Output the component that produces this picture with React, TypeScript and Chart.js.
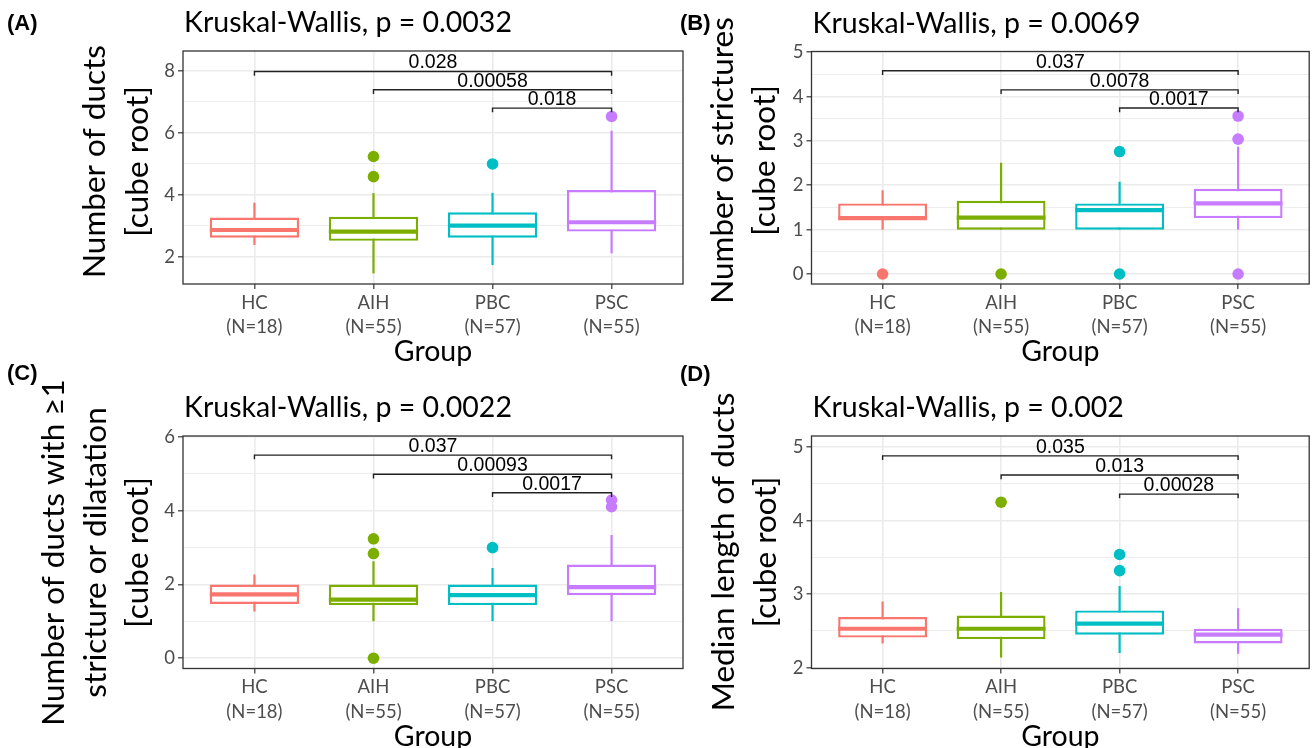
import React, { useEffect, useRef } from 'react';
import { Chart, registerables } from 'chart.js';

Chart.register(...registerables);

// ---------------- shared data ----------------
const GROUPS = ['HC', 'AIH', 'PBC', 'PSC'];
const GROUP_N = [18, 55, 57, 55];
const GROUP_COLORS = ['#F8766D', '#7CAE00', '#00BFC4', '#C77CFF'];
const COMPARISONS = [[0, 3], [1, 3], [2, 3]];
const X_LABEL = 'Group';

// ---------------- panel A ----------------
const A_LETTER = '(A)';
const A_TITLE = 'Kruskal-Wallis, p = 0.0032';
const A_YLABEL = ['Number of ducts', '[cube root]'];
const A_LOW = [2.38, 1.46, 1.73, 2.11];
const A_Q1 = [2.61, 2.51, 2.61, 2.81];
const A_MEDIAN = [2.86, 2.81, 3.0, 3.11];
const A_Q3 = [3.26, 3.29, 3.43, 4.15];
const A_HIGH = [3.74, 4.05, 4.06, 6.06];
const A_OUTLIERS = [[], [4.58, 5.23], [4.99], [6.52]];
const A_BRACKET_Y = [7.97, 7.38, 6.79];
const A_PVALUES = ['0.028', '0.00058', '0.018'];
const A_Y_TICKS = [2, 4, 6, 8];
const A_Y_RANGE = [1.12, 8.63];

// ---------------- panel B ----------------
const B_LETTER = '(B)';
const B_TITLE = 'Kruskal-Wallis, p = 0.0069';
const B_YLABEL = ['Number of strictures', '[cube root]'];
const B_LOW = [1.0, 1.0, 1.0, 1.0];
const B_Q1 = [1.23, 1.0, 1.0, 1.26];
const B_MEDIAN = [1.26, 1.27, 1.44, 1.59];
const B_Q3 = [1.59, 1.65, 1.59, 1.92];
const B_HIGH = [1.89, 2.51, 2.08, 2.87];
const B_OUTLIERS = [[0], [0], [0, 2.76], [0, 3.04, 3.56]];
const B_BRACKET_Y = [4.58, 4.15, 3.74];
const B_PVALUES = ['0.037', '0.0078', '0.0017'];
const B_Y_TICKS = [0, 1, 2, 3, 4, 5];
const B_Y_RANGE = [-0.225, 5.015];

// ---------------- panel C ----------------
const C_LETTER = '(C)';
const C_TITLE = 'Kruskal-Wallis, p = 0.0022';
const C_YLABEL = ['Number of ducts with \u22651', 'stricture or dilatation', '[cube root]'];
const C_LOW = [1.27, 1.0, 1.0, 1.0];
const C_Q1 = [1.47, 1.44, 1.44, 1.71];
const C_MEDIAN = [1.73, 1.59, 1.71, 1.93];
const C_Q3 = [2.0, 2.0, 2.0, 2.54];
const C_HIGH = [2.27, 2.63, 2.45, 3.34];
const C_OUTLIERS = [[], [0, 2.84, 3.24], [3.0], [4.11, 4.29]];
const C_BRACKET_Y = [5.51, 4.99, 4.49];
const C_PVALUES = ['0.037', '0.00093', '0.0017'];
const C_Y_TICKS = [0, 2, 4, 6];
const C_Y_RANGE = [-0.28, 6.03];

// ---------------- panel D ----------------
const D_LETTER = '(D)';
const D_TITLE = 'Kruskal-Wallis, p = 0.002';
const D_YLABEL = ['Median length of ducts', '[cube root]'];
const D_LOW = [2.33, 2.14, 2.2, 2.19];
const D_Q1 = [2.41, 2.39, 2.45, 2.33];
const D_MEDIAN = [2.53, 2.53, 2.6, 2.45];
const D_Q3 = [2.69, 2.71, 2.78, 2.53];
const D_HIGH = [2.9, 3.03, 3.11, 2.81];
const D_OUTLIERS = [[], [4.25], [3.32, 3.54], []];
const D_BRACKET_Y = [4.88, 4.62, 4.36];
const D_PVALUES = ['0.035', '0.013', '0.00028'];
const D_Y_TICKS = [2, 3, 4, 5];
const D_Y_RANGE = [1.99, 5.15];

type PanelData = {
  letter: string; title: string; ylabel: string[];
  low: number[]; q1: number[]; median: number[]; q3: number[]; high: number[];
  outliers: number[][]; bracketY: number[]; pvalues: string[];
  yTicks: number[]; yRange: number[];
};

const PANELS: PanelData[] = [
  { letter: A_LETTER, title: A_TITLE, ylabel: A_YLABEL, low: A_LOW, q1: A_Q1, median: A_MEDIAN, q3: A_Q3, high: A_HIGH, outliers: A_OUTLIERS, bracketY: A_BRACKET_Y, pvalues: A_PVALUES, yTicks: A_Y_TICKS, yRange: A_Y_RANGE },
  { letter: B_LETTER, title: B_TITLE, ylabel: B_YLABEL, low: B_LOW, q1: B_Q1, median: B_MEDIAN, q3: B_Q3, high: B_HIGH, outliers: B_OUTLIERS, bracketY: B_BRACKET_Y, pvalues: B_PVALUES, yTicks: B_Y_TICKS, yRange: B_Y_RANGE },
  { letter: C_LETTER, title: C_TITLE, ylabel: C_YLABEL, low: C_LOW, q1: C_Q1, median: C_MEDIAN, q3: C_Q3, high: C_HIGH, outliers: C_OUTLIERS, bracketY: C_BRACKET_Y, pvalues: C_PVALUES, yTicks: C_Y_TICKS, yRange: C_Y_RANGE },
  { letter: D_LETTER, title: D_TITLE, ylabel: D_YLABEL, low: D_LOW, q1: D_Q1, median: D_MEDIAN, q3: D_Q3, high: D_HIGH, outliers: D_OUTLIERS, bracketY: D_BRACKET_Y, pvalues: D_PVALUES, yTicks: D_Y_TICKS, yRange: D_Y_RANGE },
];

// ---------------- layout (page pixels) ----------------
const PAGE_W = 1315;
const PAGE_H = 748;
const CANVAS_H = 770;
const Y_AXIS_W = 60;
const X_AXIS_H = 85;

type PanelLayout = {
  left: number; top: number; right: number; bottom: number;
  letterX: number; letterY: number;
  ylabelX: number[]; ylabelY: number;
};

const LAYOUTS: PanelLayout[] = [
  { left: 183, top: 51, right: 683, bottom: 284, letterX: 7, letterY: 29.5, ylabelX: [95, 138], ylabelY: 161.5 },
  { left: 811.5, top: 51.5, right: 1311.5, bottom: 284, letterX: 680, letterY: 29.5, ylabelX: [723, 765], ylabelY: 160.5 },
  { left: 183, top: 436, right: 683, bottom: 668.5, letterX: 7, letterY: 380, ylabelX: [54, 96, 138], ylabelY: 552.5 },
  { left: 811.5, top: 436, right: 1311.5, bottom: 668.5, letterX: 680, letterY: 381, ylabelX: [724, 766], ylabelY: 552 },
];

const BOX_WIDTH = 0.75;
const TIP_FRAC = 0.018;
const FONT = 'Lato';
const AXIS_TEXT = '#4D4D4D';
const GRID = '#EBEBEB';

Chart.defaults.font.family = FONT;

function decorPlugin(d: PanelData, lay: PanelLayout) {
  return {
    id: 'decor',
    afterDatasetsDraw(chart: any) {
      const { ctx, chartArea: ca } = chart;
      const xs = chart.scales.x;
      const ys = chart.scales.y;
      ctx.save();
      ctx.strokeStyle = '#333333';
      ctx.lineWidth = 1.3;
      ctx.strokeRect(ca.left, ca.top, ca.right - ca.left, ca.bottom - ca.top);
      ctx.fillStyle = '#000';
      ctx.font = '19.5px "Liberation Sans"';
      ctx.textAlign = 'center';
      ctx.textBaseline = 'alphabetic';
      COMPARISONS.forEach(([a, b], k) => {
        const x = xs.getPixelForValue((a + b) / 2 + 1);
        const y = ys.getPixelForValue(d.bracketY[k]) - 3;
        ctx.fillText(d.pvalues[k], x, y);
      });
      ctx.restore();
    },
    afterDraw(chart: any) {
      const { ctx, chartArea: ca } = chart;
      ctx.save();
      ctx.fillStyle = '#000';
      ctx.textAlign = 'left';
      ctx.textBaseline = 'alphabetic';
      ctx.font = 'bold 22px "Liberation Sans"';
      ctx.fillText(d.letter, lay.letterX, lay.letterY);
      ctx.font = `28.5px ${FONT}`;
      ctx.fillText(d.title, ca.left + 1, ca.top - 19);
      ctx.font = `31.5px ${FONT}`;
      ctx.textAlign = 'center';
      ctx.textBaseline = 'middle';
      d.ylabel.forEach((line, i) => {
        ctx.save();
        ctx.translate(lay.ylabelX[i], lay.ylabelY);
        ctx.rotate(-Math.PI / 2);
        ctx.fillText(line, 0, 0);
        ctx.restore();
      });
      ctx.restore();
    },
  };
}

function buildConfig(d: PanelData, lay: PanelLayout): any {
  const xs = GROUPS.map((_, i) => i + 1);
  const [yMin, yMax] = d.yRange;
  const step = d.yTicks[1] - d.yTicks[0];
  const minor: number[] = [];
  for (let v = d.yTicks[0] - step / 2; v <= d.yTicks[d.yTicks.length - 1] + step / 2 + 1e-9; v += step) {
    if (v >= yMin && v <= yMax) minor.push(v);
  }
  const allTicks = [...d.yTicks, ...minor].sort((a, b) => a - b);
  const isMajor = (v: number) => d.yTicks.some((t) => Math.abs(t - v) < 1e-9);

  const datasets: any[] = [];
  GROUPS.forEach((_, i) => {
    datasets.push({
      type: 'line',
      data: [{ x: xs[i], y: d.low[i] }, { x: xs[i], y: d.high[i] }],
      borderColor: GROUP_COLORS[i], borderWidth: 2.2, pointRadius: 0, order: 4,
    });
  });
  datasets.push({
    type: 'bar',
    data: xs.map((x, i) => ({ x, y: [d.q1[i], d.q3[i]] })),
    backgroundColor: '#ffffff',
    borderColor: GROUP_COLORS,
    borderWidth: 2.4,
    borderSkipped: false,
    barPercentage: BOX_WIDTH,
    categoryPercentage: 1,
    order: 3,
  });
  GROUPS.forEach((_, i) => {
    datasets.push({
      type: 'line',
      data: [{ x: xs[i] - BOX_WIDTH / 2, y: d.median[i] }, { x: xs[i] + BOX_WIDTH / 2, y: d.median[i] }],
      borderColor: GROUP_COLORS[i], borderWidth: 4.2, borderCapStyle: 'butt', pointRadius: 0, order: 2,
    });
  });
  GROUPS.forEach((_, i) => {
    datasets.push({
      type: 'scatter',
      data: d.outliers[i].map((y) => ({ x: xs[i], y })),
      backgroundColor: GROUP_COLORS[i], borderWidth: 0, pointRadius: 5.8, order: 1,
    });
  });
  const tip = (yMax - yMin) * TIP_FRAC;
  COMPARISONS.forEach(([a, b], k) => {
    const h = d.bracketY[k];
    datasets.push({
      type: 'line',
      data: [{ x: xs[a], y: h - tip }, { x: xs[a], y: h }, { x: xs[b], y: h }, { x: xs[b], y: h - tip }],
      borderColor: '#222222', borderWidth: 1.4, borderJoinStyle: 'miter', pointRadius: 0, order: 0,
    });
  });

  return {
    type: 'bar',
    data: { datasets },
    options: {
      responsive: false,
      animation: false,
      events: [],
      layout: {
        padding: {
          left: lay.left - Y_AXIS_W,
          top: lay.top,
          right: PAGE_W - lay.right,
          bottom: CANVAS_H - lay.bottom - X_AXIS_H,
        },
      },
      plugins: { legend: { display: false }, tooltip: { enabled: false }, title: { display: false } },
      scales: {
        x: {
          type: 'linear',
          min: 0.4,
          max: GROUPS.length + 0.6,
          offset: false,
          bounds: 'data',
          afterBuildTicks: (axis: any) => { axis.ticks = xs.map((v) => ({ value: v })); },
          afterFit: (axis: any) => { axis.height = X_AXIS_H; },
          grid: { offset: false, color: GRID, lineWidth: 1.6, tickLength: 5, tickColor: '#333333', tickWidth: 1.2 },
          border: { display: false },
          ticks: {
            autoSkip: false, maxRotation: 0, padding: 2, color: AXIS_TEXT,
            font: { family: FONT, size: 18.5, lineHeight: 1.3 },
            callback: (v: any) => {
              const i = Math.round(Number(v)) - 1;
              return [GROUPS[i], `(N=${GROUP_N[i]})`];
            },
          },
          title: { display: true, text: X_LABEL, color: '#000', font: { family: FONT, size: 28.5 }, padding: { top: 0, bottom: 0 } },
        },
        y: {
          type: 'linear',
          min: yMin,
          max: yMax,
          bounds: 'data',
          afterBuildTicks: (axis: any) => { axis.ticks = allTicks.map((v) => ({ value: v })); },
          afterFit: (axis: any) => { axis.width = Y_AXIS_W; },
          grid: {
            color: GRID,
            lineWidth: (c: any) => (isMajor(c.tick.value) ? 1.6 : 0.9),
            tickLength: 5,
            tickColor: (c: any) => (isMajor(c.tick.value) ? '#333333' : 'rgba(0,0,0,0)'),
            tickWidth: 1.2,
          },
          border: { display: false },
          ticks: {
            autoSkip: false, padding: 3, color: AXIS_TEXT,
            font: { family: FONT, size: 18.5 },
            callback: (v: any) => (isMajor(Number(v)) ? String(v) : ''),
          },
          title: { display: false },
        },
      },
    },
    plugins: [decorPlugin(d, lay)],
  };
}

export default function App() {
  const canvases = useRef<(HTMLCanvasElement | null)[]>([]);
  useEffect(() => {
    const charts = PANELS.map((p, k) => new Chart(canvases.current[k] as HTMLCanvasElement, buildConfig(p, LAYOUTS[k])));
    return () => charts.forEach((c) => c.destroy());
  }, []);
  return (
    <div style={{ position: 'absolute', left: 0, top: 0, width: PAGE_W, height: PAGE_H, overflow: 'hidden', background: '#fff' }}>
      {PANELS.map((p, k) => (
        <canvas
          key={p.letter}
          ref={(el) => { canvases.current[k] = el; }}
          width={PAGE_W}
          height={CANVAS_H}
          style={{ position: 'absolute', left: 0, top: 0, width: PAGE_W, height: CANVAS_H }}
        />
      ))}
    </div>
  );
}
